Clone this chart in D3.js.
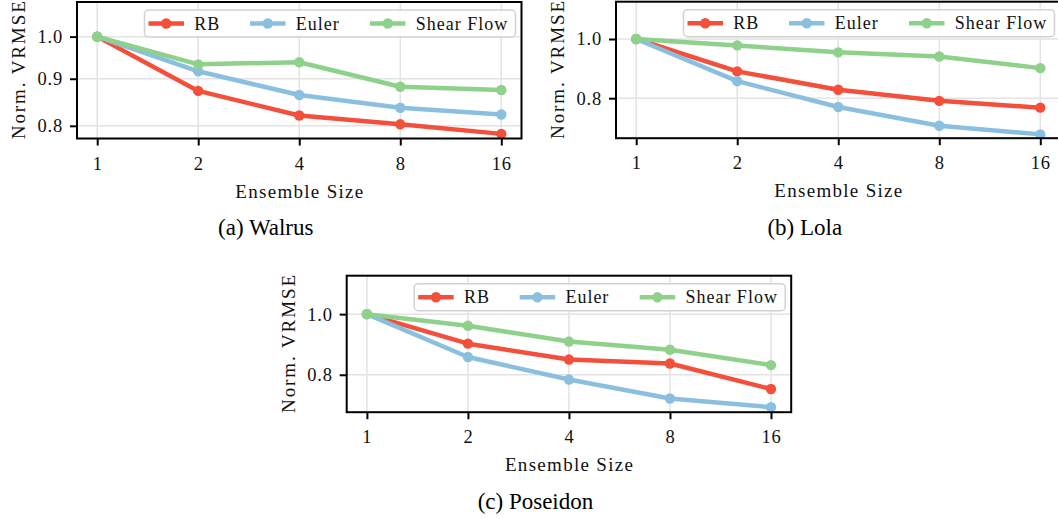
<!DOCTYPE html>
<html>
<head>
<meta charset="utf-8">
<script src="https://cdn.jsdelivr.net/npm/d3@7"></script>
<style>
  body { margin: 0; background: #fff; }
  svg { display: block; }
  svg text { font-family: 'Liberation Serif', 'DejaVu Serif', serif; }
</style>
</head>
<body>
<div id="chart"></div>
<script>
// Data
const sizes = [1, 2, 4, 8, 16];
const seriesNames = ['RB', 'Euler', 'Shear Flow'];
const colors = ['#f44f3b', '#8bbfdf', '#8ed18a'];

const walrusRB = [1.0, 0.873, 0.821, 0.803, 0.784];
const walrusEuler = [1.0, 0.917, 0.864, 0.837, 0.823];
const walrusShear = [1.0, 0.933, 0.938, 0.882, 0.875];

const lolaRB = [1.0, 0.885, 0.826, 0.792, 0.772];
const lolaEuler = [1.0, 0.853, 0.774, 0.721, 0.698];
const lolaShear = [1.0, 0.976, 0.951, 0.936, 0.896];

const poseidonRB = [1.0, 0.897, 0.846, 0.834, 0.759];
const poseidonEuler = [1.0, 0.854, 0.786, 0.733, 0.710];
const poseidonShear = [1.0, 0.958, 0.904, 0.877, 0.829];

const panels = [
  { id: 'a', caption: '(a) Walrus', values: [walrusRB, walrusEuler, walrusShear],
    yDomain: [0.775, 1.0905], yTicks: [0.8, 0.9, 1.0], left: 77, top: 2 },
  { id: 'b', caption: '(b) Lola', values: [lolaRB, lolaEuler, lolaShear],
    yDomain: [0.688, 1.151], yTicks: [0.8, 1.0], left: 616, top: 1.7 },
  { id: 'c', caption: '(c) Poseidon', values: [poseidonRB, poseidonEuler, poseidonShear],
    yDomain: [0.697, 1.152], yTicks: [0.8, 1.0], left: 346.7, top: 275.7 },
];

const width = 444.5;
const height = 136.5;
const serif = "'Liberation Serif', 'DejaVu Serif', serif";

const svg = d3
  .select('#chart')
  .append('svg')
  .attr('width', 1058)
  .attr('height', 519);

svg.append('rect').attr('width', 1058).attr('height', 519).attr('fill', '#fff');

panels.forEach((p) => {
  const g = svg.append('g').attr('transform', `translate(${p.left}, ${p.top})`);

  // log2 x axis with 5% margins like matplotlib
  const xScale = d3.scaleLog().base(2).domain([2 ** -0.2, 2 ** 4.2]).range([0, width]);
  const yScale = d3.scaleLog().domain(p.yDomain).range([height, 0]);

  // grid
  g.append('g')
    .selectAll('line')
    .data(sizes)
    .join('line')
    .attr('x1', (d) => xScale(d))
    .attr('x2', (d) => xScale(d))
    .attr('y1', 0)
    .attr('y2', height)
    .attr('stroke', '#e3e3e3')
    .attr('stroke-width', 1.5);
  g.append('g')
    .selectAll('line')
    .data(p.yTicks)
    .join('line')
    .attr('x1', 0)
    .attr('x2', width)
    .attr('y1', (d) => yScale(d))
    .attr('y2', (d) => yScale(d))
    .attr('stroke', '#e3e3e3')
    .attr('stroke-width', 1.5);

  // clip for the lines
  g.append('clipPath')
    .attr('id', `clip-${p.id}`)
    .append('rect')
    .attr('width', width)
    .attr('height', height);

  const plot = g.append('g').attr('clip-path', `url(#clip-${p.id})`);
  const line = d3
    .line()
    .x((d, i) => xScale(sizes[i]))
    .y((d) => yScale(d));

  p.values.forEach((vals, k) => {
    plot.append('path')
      .attr('d', line(vals))
      .attr('fill', 'none')
      .attr('stroke', colors[k])
      .attr('stroke-width', 4.5)
      .attr('stroke-linejoin', 'round');
    plot.append('g')
      .selectAll('circle')
      .data(vals)
      .join('circle')
      .attr('cx', (d, i) => xScale(sizes[i]))
      .attr('cy', (d) => yScale(d))
      .attr('r', 5.2)
      .attr('fill', colors[k]);
  });

  // axes
  const xAxis = g.append('g')
    .attr('transform', `translate(0, ${height})`)
    .call(d3.axisBottom(xScale).tickValues(sizes).tickFormat(d3.format('d')).tickSize(7).tickPadding(11));
  const yAxis = g.append('g')
    .call(d3.axisLeft(yScale).tickValues(p.yTicks).tickFormat(d3.format('.1f')).tickSize(7).tickPadding(7));

  [xAxis, yAxis].forEach((ax) => {
    ax.attr('font-family', serif).attr('font-size', 18);
    ax.select('.domain').remove();
    ax.selectAll('.tick line').attr('stroke', '#000').attr('stroke-width', 2);
    ax.selectAll('.tick text')
      .attr('fill', '#111')
      .attr('font-family', serif)
      .style('font-size', '18.5px')
      .style('letter-spacing', '0.8px');
  });

  // frame
  g.append('rect')
    .attr('width', width)
    .attr('height', height)
    .attr('fill', 'none')
    .attr('stroke', '#000')
    .attr('stroke-width', 2);

  // axis names
  g.append('text')
    .attr('transform', `translate(${width / 2}, ${height + 59})`)
    .attr('text-anchor', 'middle')
    .attr('textLength', 128)
    .attr('lengthAdjust', 'spacing')
    .attr('font-family', serif)
    .style('font-size', '19px')
    .attr('fill', '#111')
    .text('Ensemble Size');
  g.append('text')
    .attr('transform', `translate(-52, ${height / 2}) rotate(-90)`)
    .attr('text-anchor', 'middle')
    .attr('textLength', 138)
    .attr('lengthAdjust', 'spacing')
    .attr('font-family', serif)
    .style('font-size', '19px')
    .attr('fill', '#111')
    .text('Norm. VRMSE');

  // legend
  const lw = 371;
  const lh = 27;
  const legend = g.append('g').attr('transform', `translate(${width - 6 - lw}, 8)`);
  legend.append('rect')
    .attr('width', lw)
    .attr('height', lh)
    .attr('rx', 4)
    .attr('fill', '#fff')
    .attr('fill-opacity', 0.85)
    .attr('stroke', '#d2d2d2')
    .attr('stroke-width', 1.5);
  const offsets = [4, 105.5, 225.5];
  seriesNames.forEach((name, k) => {
    const item = legend.append('g').attr('transform', `translate(${offsets[k]}, ${lh / 2})`);
    item.append('line')
      .attr('x1', 0)
      .attr('x2', 35.5)
      .attr('stroke', colors[k])
      .attr('stroke-width', 4.5);
    item.append('circle').attr('cx', 17.75).attr('r', 5.2).attr('fill', colors[k]);
    item.append('text')
      .attr('x', 45.7)
      .attr('dy', '0.34em')
      .attr('font-family', serif)
      .style('font-size', '18px')
      .style('letter-spacing', '1px')
      .attr('fill', '#111')
      .text(name);
  });

  // caption
  g.append('text')
    .attr('transform', `translate(${width / 2 - 33.5}, ${height + 96.5})`)
    .attr('text-anchor', 'middle')
    .attr('font-family', serif)
    .style('font-size', '23px')
    .attr('fill', '#000')
    .text(p.caption);
});
</script>
</body>
</html>
